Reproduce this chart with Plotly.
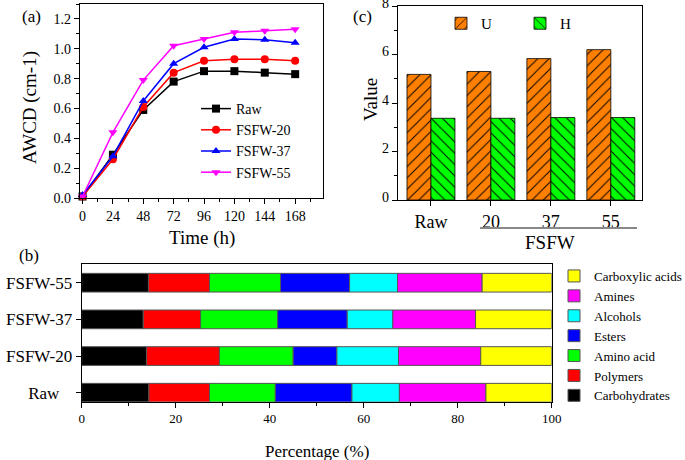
import numpy as np
import plotly.graph_objects as go

W, H = 685, 460
def px(x): return x / W
def py(y): return 1 - y / H

FONT = "Liberation Serif"

# ---------------- Panel (a) data ----------------
time_h = [0, 24, 48, 72, 96, 120, 144, 168]
awcd_raw = [0.01, 0.29, 0.59, 0.78, 0.85, 0.85, 0.84, 0.83]
awcd_20 = [0.01, 0.26, 0.61, 0.84, 0.92, 0.93, 0.93, 0.92]
awcd_37 = [0.02, 0.28, 0.65, 0.90, 1.01, 1.065, 1.06, 1.04]
awcd_55 = [0.01, 0.44, 0.79, 1.02, 1.065, 1.11, 1.12, 1.13]

# ---------------- Panel (c) data ----------------
c_categories = ["Raw", "20", "37", "55"]
u_values = [5.18, 5.30, 5.83, 6.20]
h_values = [3.37, 3.37, 3.40, 3.40]
c_yticks = [0, 2, 4, 6, 8]

# ---------------- Panel (b) data ----------------
b_categories = ["Raw", "FSFW-20", "FSFW-37", "FSFW-55"]
b_ticktext = ["Raw\u00a0\u00a0\u00a0", "FSFW-20", "FSFW-37", "FSFW-55"]
carbohydrates = [14.3, 13.8, 13.1, 14.2]
polymers = [12.9, 15.5, 12.2, 13.0]
amino_acid = [14.0, 15.7, 16.4, 15.1]
esters = [16.3, 9.3, 14.8, 14.7]
alcohols = [10.1, 13.1, 9.7, 10.2]
amines = [18.4, 17.5, 17.6, 18.0]
carboxylic = [14.0, 15.1, 16.2, 14.8]

fig = go.Figure()

# Panel (a) lines
for name, vals, color, sym in [
    ("Raw", awcd_raw, "#000000", "square"),
    ("FSFW-20", awcd_20, "#FF0000", "circle"),
    ("FSFW-37", awcd_37, "#0000FF", "triangle-up"),
    ("FSFW-55", awcd_55, "#FF00FF", "triangle-down"),
]:
    fig.add_trace(go.Scatter(
        x=time_h, y=vals, mode="lines+markers", name=name,
        line=dict(color=color, width=1.5),
        marker=dict(symbol=sym, size=8, color=color),
        xaxis="x", yaxis="y", legend="legend", cliponaxis=False))

# Panel (c) grouped hatched bars
fig.add_trace(go.Bar(
    x=c_categories, y=u_values, name="U", xaxis="x2", yaxis="y2", legend="legend2",
    marker=dict(color="#FF8000", line=dict(color="#000000", width=0.8),
                pattern=dict(shape="/", fgcolor="#000000", bgcolor="#FF8000", size=8, solidity=0.12))))
fig.add_trace(go.Bar(
    x=c_categories, y=h_values, name="H", xaxis="x2", yaxis="y2", legend="legend2",
    marker=dict(color="#00FF00", line=dict(color="#000000", width=0.8),
                pattern=dict(shape="\\", fgcolor="#000000", bgcolor="#00FF00", size=8, solidity=0.12))))

# Panel (b) stacked horizontal bars
components = [
    ("Carbohydrates", carbohydrates, "#000000"),
    ("Polymers", polymers, "#FF0000"),
    ("Amino acid", amino_acid, "#00FF00"),
    ("Esters", esters, "#0000FF"),
    ("Alcohols", alcohols, "#00FFFF"),
    ("Amines", amines, "#FF00FF"),
    ("Carboxylic acids", carboxylic, "#FFFF00"),
]
base = np.zeros(len(b_categories))
for name, vals, color in components:
    fig.add_trace(go.Bar(
        y=b_categories, x=vals, base=base.copy(), orientation="h", name=name,
        width=0.51, offset=-0.255,
        marker=dict(color=color, line=dict(color="#555555", width=1)),
        xaxis="x3", yaxis="y3", legend="legend3"))
    base = base + np.array(vals)

axis_common = dict(showline=True, linecolor="#000000", linewidth=1.3, mirror=True,
                   showgrid=False, zeroline=False, ticks="outside", ticklen=5,
                   tickcolor="#000000", tickwidth=1, automargin=False,
                   ticklabeloverflow="allow")

fig.update_layout(
    template="none",
    width=W, height=H,
    margin=dict(l=0, r=0, t=0, b=0, autoexpand=False),
    paper_bgcolor="white", plot_bgcolor="white",
    font=dict(family=FONT, color="#000000", size=14),
    barmode="group", bargap=0.2, bargroupgap=0,
    xaxis=dict(domain=[px(80), px(323)], range=[-2, 190], tick0=0, dtick=24,
               anchor="y", tickfont=dict(size=14, family=FONT, color="#000000"),
               minor=dict(ticks="outside", ticklen=3, dtick=12, tickcolor="#000000"),
               **axis_common),
    yaxis=dict(domain=[py(198), py(4)], range=[0, 1.3], tick0=0, dtick=0.2, tickformat=".1f",
               anchor="x", tickfont=dict(size=14, family=FONT, color="#000000"),
               minor=dict(ticks="outside", ticklen=3, dtick=0.1, tickcolor="#000000"),
               **axis_common),
    xaxis2=dict(domain=[px(398), px(642)], type="category", range=[-0.55, 3.52],
                anchor="y2", tickfont=dict(size=18, family=FONT, color="#000000"), **axis_common),
    yaxis2=dict(domain=[py(200), py(6)], range=[0, 8.0001], tickmode="array",
                tickvals=c_yticks, ticktext=[str(v) for v in c_yticks],
                ticklabelshift=-3,
                anchor="x2", tickfont=dict(size=14, family=FONT, color="#000000"),
                minor=dict(ticks="outside", ticklen=3, tick0=1, dtick=2, tickcolor="#000000"),
                **axis_common),
    xaxis3=dict(domain=[px(81.7), px(551.7)], range=[0, 100], tick0=0, dtick=20,
                anchor="y3", tickfont=dict(size=13, family=FONT, color="#000000"),
                minor=dict(ticks="outside", ticklen=3, dtick=10, tickcolor="#000000"),
                **axis_common),
    yaxis3=dict(domain=[py(401.7), py(264)], type="category", range=[-0.245, 3.51],
                categoryorder="array", categoryarray=b_categories,
                tickvals=b_categories, ticktext=b_ticktext,
                anchor="x3", tickfont=dict(size=17, family=FONT, color="#000000"), **axis_common),
    legend=dict(x=px(196), y=py(93), xanchor="left", yanchor="top",
                font=dict(size=14, family=FONT), bgcolor="rgba(0,0,0,0)", tracegroupgap=0,
                itemwidth=30),
    legend2=dict(orientation="h", x=px(441), y=py(7), xanchor="left", yanchor="top",
                 font=dict(size=15, family=FONT), bgcolor="rgba(0,0,0,0)",
                 entrywidth=34, entrywidthmode="pixels"),
    legend3=dict(x=px(554), y=py(261), xanchor="left", yanchor="top",
                 font=dict(size=13, family=FONT), bgcolor="rgba(0,0,0,0)",
                 traceorder="reversed", tracegroupgap=0),
    showlegend=True,
)

fig.add_shape(type="line", xref="paper", yref="paper",
              x0=px(480), x1=px(637), y0=py(228), y1=py(228),
              line=dict(color="#888888", width=2))

def ann(text, x, y, size, angle=0):
    fig.add_annotation(text=text, x=px(x), y=py(y), xref="paper", yref="paper",
                       showarrow=False, font=dict(family=FONT, size=size, color="#000000"),
                       textangle=angle, xanchor="center", yanchor="middle")

ann("(a)", 32, 16, 17)
ann("(c)", 362, 16, 17)
ann("(b)", 29, 255, 17)
ann("AWCD (cm-1)", 30, 108, 19, -90)
ann("Time (h)", 202, 238, 19)
ann("Value", 371, 100, 19, -90)
ann("FSFW", 550, 243, 19)
ann("Percentage (%)", 317, 451, 17)

fig.write_html("out.html",
               config={"displayModeBar": False},
               post_script="document.body.style.margin='0';document.body.style.overflow='hidden';")
